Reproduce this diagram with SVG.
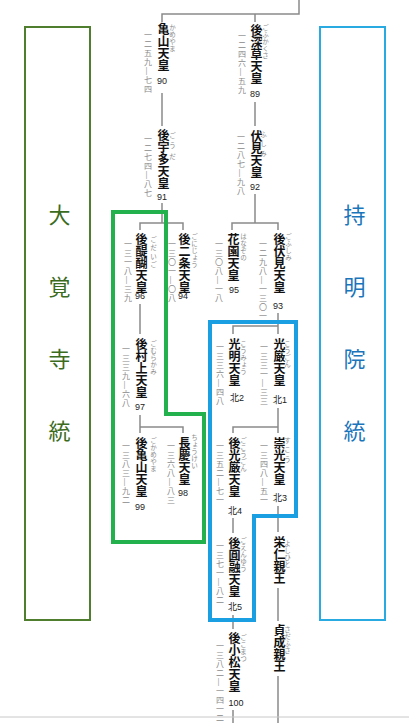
<svg xmlns="http://www.w3.org/2000/svg" width="409" height="723" viewBox="0 0 409 723">
<style>
.n{font-family:"Liberation Sans","Noto Sans CJK JP",sans-serif;font-size:12px;font-weight:bold;fill:#111;writing-mode:vertical-rl}
.r{font-family:"Liberation Sans","Noto Sans CJK JP",sans-serif;font-size:6.5px;fill:#8a8a8a;writing-mode:vertical-rl;letter-spacing:0.5px}
.d{font-family:"Liberation Sans","Noto Sans CJK JP",sans-serif;font-size:8px;fill:#8a8a8a;writing-mode:vertical-rl;letter-spacing:1px}
.k{font-family:"Liberation Sans","Noto Sans CJK JP",sans-serif;font-size:9px;fill:#222;text-anchor:middle}
.c{stroke:#8a8a8a;stroke-width:1.5;fill:none}
.big{font-family:"Liberation Sans","Noto Sans CJK JP",sans-serif;font-size:22px;writing-mode:vertical-rl;letter-spacing:50px}
</style>
<rect width="409" height="723" fill="#fff"/>
<g id="connectors">
<path class="c" d="M299,0V14H162V22M255,14V22"/>
<path class="c" d="M162,93V126M162,203V223M140,230V223H183V230"/>
<path class="c" d="M255,102V126M255,194V223M232,230V223H278V230"/>
<path class="c" d="M140,304V334M140,415V433M140,427H183V433"/>
<path class="c" d="M278,313V334M278,326H233V334"/>
<path class="c" d="M278,408V433M278,427H233V433"/>
<path class="c" d="M278,506V532M278,588V621M278,676V723"/>
<path class="c" d="M233,518V533M233,615V629M233,710V723"/>
<path d="M0,717H409" stroke="#c8c8c8" stroke-width="1"/>
</g>
<g id="box-daikakuji">
<rect x="25" y="27" width="65" height="593" fill="none" stroke="#4f7f2e" stroke-width="2"/>
<text class="big" x="57" y="204" fill="#3b6b1c">大覚寺統</text>
</g>
<g id="box-jimyoin">
<rect x="320" y="27" width="65" height="593" fill="none" stroke="#29abe2" stroke-width="2"/>
<text class="big" x="352" y="204" fill="#1b75bb">持明院統</text>
</g>
<g id="hl-green"><path d="M113,212H166V414H204V542H113Z" fill="none" stroke="#22b14c" stroke-width="4"/></g>
<g id="hl-blue"><path d="M210,322H296V516H254V620H210Z" fill="none" stroke="#1a9fe3" stroke-width="4"/></g>
<g id="kameyama"><text class="n" x="162" y="23">亀山天皇</text><text class="k" x="162" y="84">90</text><text class="r" x="172" y="24">かめやま</text><text class="d" x="147" y="31">一二五九—七四</text></g>
<g id="gofukakusa"><text class="n" x="255" y="24">後深草天皇</text><text class="k" x="255" y="97">89</text><text class="r" x="265" y="24">ごふかくさ</text><text class="d" x="241" y="32">一二四六—五九</text></g>
<g id="gouda"><text class="n" x="162" y="129">後宇多天皇</text><text class="k" x="162" y="200">91</text><text class="r" x="172" y="132" style="letter-spacing:4px">ごうだ</text><text class="d" x="147" y="135">一二七四—八七</text></g>
<g id="fushimi"><text class="n" x="255" y="130">伏見天皇</text><text class="k" x="255" y="190">92</text><text class="r" x="263" y="131" style="letter-spacing:3px">ふしみ</text><text class="d" x="240" y="133">一二八七—九八</text></g>
<g id="godaigo"><text class="n" x="140" y="233">後醍醐天皇</text><text class="k" x="140" y="299">96</text><text class="r" x="153" y="236" style="letter-spacing:2px">ごだいご</text><text class="d" x="127" y="240">一三一八—三九</text></g>
<g id="gonijo"><text class="n" x="183" y="233">後二条天皇</text><text class="k" x="183" y="299">94</text><text class="r" x="194" y="233">ごにじょう</text><text class="d" x="171" y="240">一三〇一—〇八</text></g>
<g id="hanazono"><text class="n" x="232" y="233">花園天皇</text><text class="k" x="234" y="293">95</text><text class="r" x="243" y="233">はなぞの</text><text class="d" x="218" y="240">一三〇八—一八</text></g>
<g id="gofushimi"><text class="n" x="278" y="233">後伏見天皇</text><text class="k" x="278" y="309">93</text><text class="r" x="288" y="233">ごふしみ</text><text class="d" x="262" y="240">一二九八—一三〇一</text></g>
<g id="gomurakami"><text class="n" x="140" y="338">後村上天皇</text><text class="k" x="140" y="410">97</text><text class="r" x="153" y="340">ごむらかみ</text><text class="d" x="125" y="345">一三三九—六八</text></g>
<g id="gokameyama"><text class="n" x="140" y="437">後亀山天皇</text><text class="k" x="140" y="510">99</text><text class="r" x="153" y="437">ごかめやま</text><text class="d" x="125" y="442">一三八三—九二</text></g>
<g id="chokei"><text class="n" x="183" y="437">長慶天皇</text><text class="k" x="183" y="496">98</text><text class="r" x="194" y="434">ちょうけい</text><text class="d" x="170" y="442">一三六八—八三</text></g>
<g id="kogon"><text class="n" x="278" y="338">光厳天皇</text><text class="k" x="280" y="403">北1</text><text class="r" x="287" y="340">こうごん</text><text class="d" x="263" y="343">一三三一—三三</text></g>
<g id="komyo"><text class="n" x="233" y="338">光明天皇</text><text class="k" x="237" y="401">北2</text><text class="r" x="243" y="340">こうみょう</text><text class="d" x="219" y="343">一三三六—四八</text></g>
<g id="suko"><text class="n" x="278" y="437">崇光天皇</text><text class="k" x="280" y="501">北3</text><text class="r" x="287" y="437" style="letter-spacing:3px">すこう</text><text class="d" x="263" y="442">一三四八—五一</text></g>
<g id="gokogon"><text class="n" x="233" y="437">後光厳天皇</text><text class="k" x="235" y="514">北4</text><text class="r" x="243" y="437">ごこうごん</text><text class="d" x="219" y="442">一三五二—七一</text></g>
<g id="goenyu"><text class="n" x="233" y="537">後圓融天皇</text><text class="k" x="235" y="610">北5</text><text class="r" x="243" y="537">ごえんゆう</text><text class="d" x="219" y="542">一三七一—八二</text></g>
<g id="gokomatsu"><text class="n" x="233" y="632">後小松天皇</text><text class="k" x="236" y="706">100</text><text class="r" x="243" y="634">ごこまつ</text><text class="d" x="219" y="642">一三八二—一四一二</text></g>
<g id="yoshihito"><text class="n" x="278" y="536">栄仁親王</text><text class="r" x="287" y="540">よしひと</text></g>
<g id="sadafusa"><text class="n" x="278" y="624">貞成親王</text><text class="r" x="287" y="626">さだふさ</text></g>
</svg>
